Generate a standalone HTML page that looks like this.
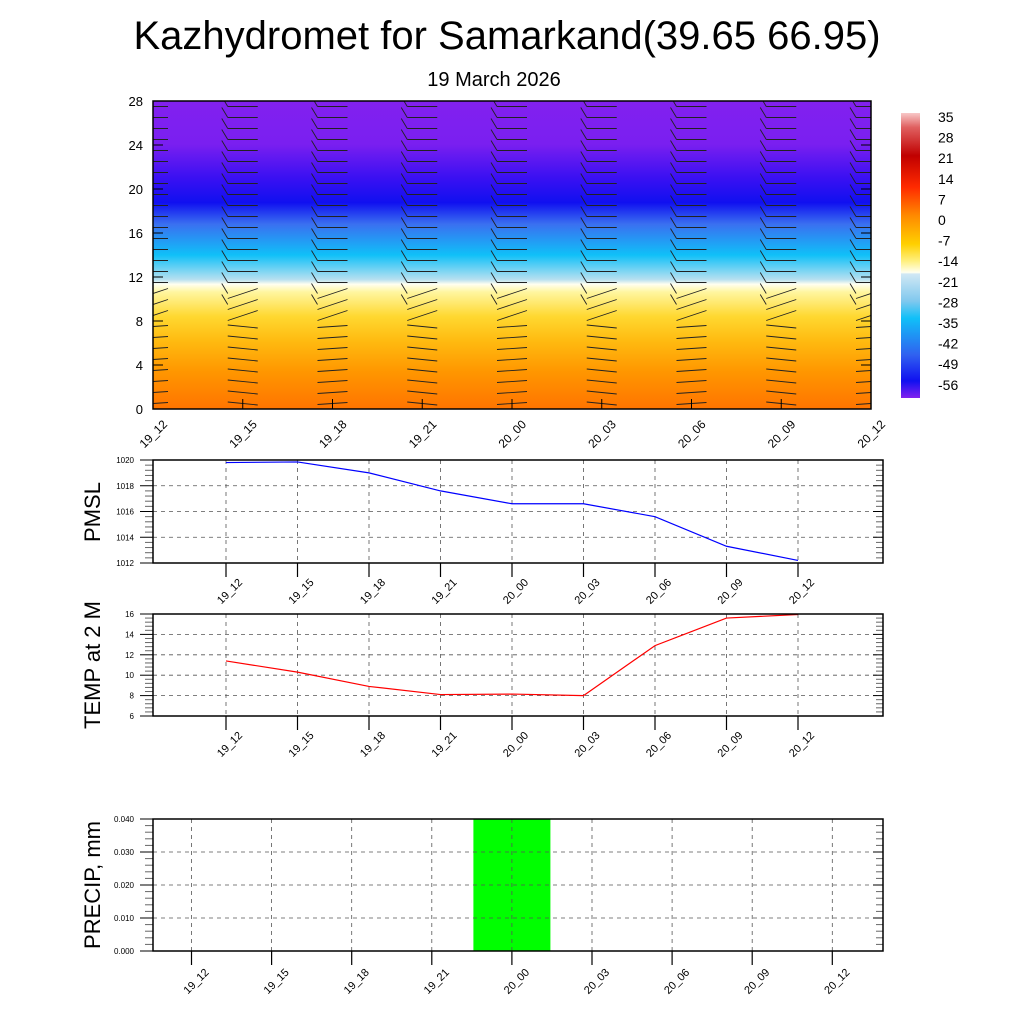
<!DOCTYPE html>
<html><head><meta charset="utf-8"><style>
html,body{margin:0;padding:0;background:#fff;}
svg{display:block;font-family:"Liberation Sans",sans-serif;}
</style></head><body>
<svg id="s" width="1024" height="1024" viewBox="0 0 1024 1024" xmlns="http://www.w3.org/2000/svg">
<defs>
<linearGradient id="tg" x1="0" y1="0" x2="0" y2="1">
<stop offset="0" stop-color="#8221ef"/>
<stop offset="0.14" stop-color="#7a1ff0"/>
<stop offset="0.25" stop-color="#3a10f2"/>
<stop offset="0.33" stop-color="#1010f0"/>
<stop offset="0.40" stop-color="#3a70f0"/>
<stop offset="0.50" stop-color="#10c0f8"/>
<stop offset="0.58" stop-color="#b8e0f0"/>
<stop offset="0.595" stop-color="#fffff0"/>
<stop offset="0.62" stop-color="#fff6a0"/>
<stop offset="0.70" stop-color="#ffd830"/>
<stop offset="0.78" stop-color="#ffba10"/>
<stop offset="0.88" stop-color="#ff9600"/>
<stop offset="1" stop-color="#ff7400"/>
</linearGradient>
<linearGradient id="cb" x1="0" y1="0" x2="0" y2="1">
<stop offset="0" stop-color="#f8c8c8"/>
<stop offset="0.05" stop-color="#e06060"/>
<stop offset="0.15" stop-color="#c00000"/>
<stop offset="0.26" stop-color="#ff2a00"/>
<stop offset="0.36" stop-color="#ff8a00"/>
<stop offset="0.46" stop-color="#ffd000"/>
<stop offset="0.52" stop-color="#fff080"/>
<stop offset="0.56" stop-color="#fffff0"/>
<stop offset="0.565" stop-color="#d0e8f4"/>
<stop offset="0.66" stop-color="#80c8ee"/>
<stop offset="0.72" stop-color="#10c0f8"/>
<stop offset="0.85" stop-color="#3060f0"/>
<stop offset="0.94" stop-color="#1010f0"/>
<stop offset="1" stop-color="#8221ef"/>
</linearGradient>
<clipPath id="plotclip"><rect x="153" y="101" width="718" height="308"/></clipPath>
</defs>
<text x="507" y="49" font-size="40" text-anchor="middle">Kazhydromet for Samarkand(39.65 66.95)</text>
<text x="494" y="86" font-size="20" text-anchor="middle">19 March 2026</text>
<rect x="153" y="101" width="718" height="308" fill="url(#tg)"/>
<rect x="901" y="113" width="19" height="285" fill="url(#cb)"/>
<g id="barbs" clip-path="url(#plotclip)"></g>
<g id="topg"></g>
<g id="cbl"></g>
<g id="p1"></g>
<g id="p2"></g>
<g id="p3"></g>
</svg>
<script>
const times=["19_12","19_15","19_18","19_21","20_00","20_03","20_06","20_09","20_12"];
const heightTicks=[0,4,8,12,16,20,24,28];
const colorbarLabels=["35","28","21","14","7","0","-7","-14","-21","-28","-35","-42","-49","-56"];
const pmsl=[1019.8,1019.85,1019.0,1017.6,1016.6,1016.6,1015.6,1013.3,1012.2];
const pmslTicks=[1012,1014,1016,1018,1020];
const temp2m=[11.4,10.3,8.9,8.1,8.15,8.0,12.9,15.6,15.95];
const tempTicks=[6,8,10,12,14,16];
const precip=[0,0,0,0,0.05,0,0,0,0];
const precipTicks=["0.000","0.010","0.020","0.030","0.040"];
const NS="http://www.w3.org/2000/svg";
function mk(p,tag,a,txt){const e=document.createElementNS(NS,tag);for(const k in a)e.setAttribute(k,a[k]);if(txt!==undefined)e.textContent=txt;p.appendChild(e);return e;}
const topG=document.getElementById('topg');
const barbsG=document.getElementById('barbs');
const tx=i=>153+i*(718/8), ty=v=>409-v*(308/28);
for(let i=0;i<times.length;i++){
  for(let h=0.5;h<28;h+=1){
    const cx=tx(i),cy=ty(h);
    const slant=h<11?(h<8?(i%2?3:-2):-10):0;
    const b=mk(barbsG,'line',{x1:cx-15,y1:cy-slant/2,x2:cx+15,y2:cy+slant/2,stroke:'#222','stroke-width':0.9});
    
    
    if(h>9){const t=mk(barbsG,'line',{x1:cx-15,y1:cy,x2:cx-21,y2:cy-10,stroke:'#222','stroke-width':0.9});
    
    }
  }
}
mk(topG,'rect',{x:153,y:101,width:718,height:308,fill:'none',stroke:'#000','stroke-width':1.5});
heightTicks.forEach(v=>{
  const t=mk(topG,'text',{x:143,y:ty(v)+5,'font-size':13,'text-anchor':'end'},String(v));
  
  
  mk(topG,'line',{x1:153,y1:ty(v),x2:163,y2:ty(v),stroke:'#000'});
  mk(topG,'line',{x1:861,y1:ty(v),x2:871,y2:ty(v),stroke:'#000'});
});
times.forEach((s,i)=>{
  mk(topG,'line',{x1:tx(i),y1:409,x2:tx(i),y2:399,stroke:'#000'});
  const t=mk(topG,'text',{x:0,y:0,'font-size':12,'text-anchor':'end',transform:`translate(${tx(i)+15},${425}) rotate(-45)`},s);
  
  
});
const cbl=document.getElementById('cbl');
colorbarLabels.forEach((s,i)=>{
  const t=mk(cbl,'text',{x:938,y:122+i*20.6,'font-size':14},s);
  
  
});
function panel(g,y0,y1,vmin,vmax,ticks,labels,data,color,title,xs,step,lblSize,titleY,ldx,ldy){
  const px=i=>xs+i*step, py=v=>y1-(v-vmin)/(vmax-vmin)*(y1-y0);
  ticks.forEach((v,k)=>{
    const y=py(v);
    mk(g,'line',{x1:153,y1:y,x2:883,y2:y,stroke:'#555','stroke-dasharray':'4,4','stroke-width':0.8});
    mk(g,'line',{x1:140,y1:y,x2:153,y2:y,stroke:'#000'});
    mk(g,'line',{x1:873,y1:y,x2:883,y2:y,stroke:'#000'});
    const t=mk(g,'text',{x:134,y:y+3,'font-size':lblSize,'text-anchor':'end'},labels[k]);
    
    
    if(k<ticks.length-1){for(let m=1;m<5;m++){const yy=y-(y-py(ticks[k+1]))*m/5;
      mk(g,'line',{x1:145,y1:yy,x2:153,y2:yy,stroke:'#666'});mk(g,'line',{x1:883,y1:yy,x2:876,y2:yy,stroke:'#666'});}}
  });
  times.forEach((s,i)=>{
    mk(g,'line',{x1:px(i),y1:y0,x2:px(i),y2:y1,stroke:'#555','stroke-dasharray':'4,4','stroke-width':0.8});
    mk(g,'line',{x1:px(i),y1:y1,x2:px(i),y2:y1+14,stroke:'#000','stroke-width':1.2});
    const t=mk(g,'text',{x:0,y:0,'font-size':11,'text-anchor':'end',transform:`translate(${px(i)+ldx},${y1+ldy}) rotate(-45)`},s);
    
    
  });
  if(data){
    const l=mk(g,'polyline',{points:data.map((v,i)=>px(i)+','+py(v)).join(' '),fill:'none',stroke:color,'stroke-width':1.2});
    
    
  }
  mk(g,'rect',{x:153,y:y0,width:730,height:y1-y0,fill:'none',stroke:'#000','stroke-width':1.5});
  const tt=mk(g,'text',{x:0,y:0,'font-size':22,'text-anchor':'middle',transform:`translate(100,${titleY}) rotate(-90)`},title);
  
  
  return {px,py};
}
panel(document.getElementById('p1'),460,563,1012,1020,pmslTicks,pmslTicks.map(String),pmsl,'#0000ff','PMSL',226,71.5,8,512,17,20);
panel(document.getElementById('p2'),614,716,6,16,tempTicks,tempTicks.map(String),temp2m,'#ff0000','TEMP at 2 M',226,71.5,8,665,17,20);
const g3=document.getElementById('p3');
const pt=precipTicks.map(Number);
const r=panel(g3,819,951,0,0.04,pt,precipTicks,null,'','PRECIP, mm',191.5,80.1,8,885,18,22);
precip.forEach((v,i)=>{
  if(v<=0)return;
  const vv=Math.min(v,0.04);
  const b=mk(g3,'rect',{x:r.px(i)-38.5,y:r.py(vv),width:77,height:951-r.py(vv),fill:'#00ff00'});
  
  
  g3.insertBefore(b,g3.firstChild);
});
</script>
</body></html>
